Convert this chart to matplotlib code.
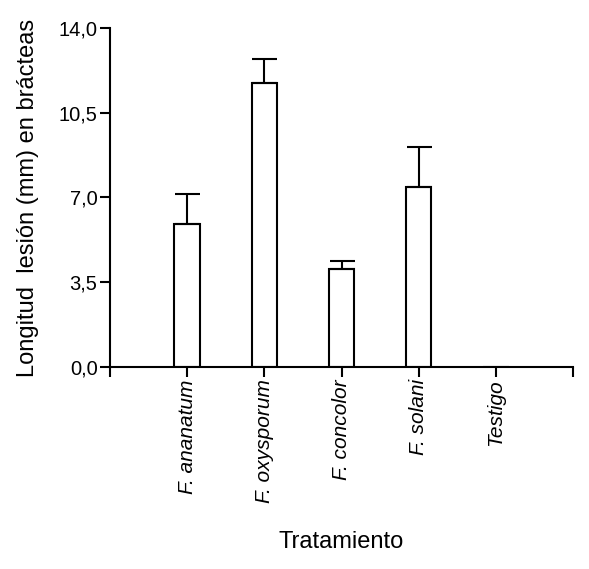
import numpy as np
import matplotlib
matplotlib.use('Agg')
import matplotlib.pyplot as plt

# data
tratamientos = ['F. ananatum', 'F. oxysporum', 'F. concolor', 'F. solani', 'Testigo']
longitud = [5.92, 11.74, 4.03, 7.42, 0.0]
error_sup = [1.24, 0.99, 0.34, 1.67, 0.0]

plt.rcParams['font.family'] = ['Liberation Sans', 'DejaVu Sans']

fig = plt.figure(figsize=(5.89, 5.69), dpi=100)
ax = fig.add_axes([0.1868, 0.3555, 0.786, 0.595])

pos = np.arange(1, len(tratamientos) + 1)
ax.bar(pos, longitud, width=0.33, color='white', edgecolor='black', linewidth=1.5, zorder=2)
for x, v, e in zip(pos, longitud, error_sup):
    if e > 0:
        ax.errorbar(x, v, yerr=[[0], [e]], fmt='none', ecolor='black',
                    elinewidth=1.5, capsize=9, capthick=1.5, zorder=3)

ax.set_xlim(0, 6)
ax.set_ylim(0, 14)
ax.set_yticks([0, 3.5, 7, 10.5, 14])
ax.set_yticklabels([f'{t:.1f}'.replace('.', ',') for t in [0, 3.5, 7, 10.5, 14]])
ax.set_xticks([0] + list(pos) + [6])
ax.set_xticklabels([''] + tratamientos + [''], rotation=90, style='italic')

for s in ['top', 'right']:
    ax.spines[s].set_visible(False)
for s in ['left', 'bottom']:
    ax.spines[s].set_linewidth(1.5)
ax.tick_params(axis='both', direction='out', length=7, width=1.5, labelsize=14.5, pad=2)
ax.tick_params(axis='x', labelsize=15)

ax.set_ylabel('Longitud  lesión (mm) en brácteas', fontsize=17, labelpad=14)
ax.set_xlabel('Tratamiento', fontsize=17, labelpad=20)

fig.savefig('out.png', dpi=100)
